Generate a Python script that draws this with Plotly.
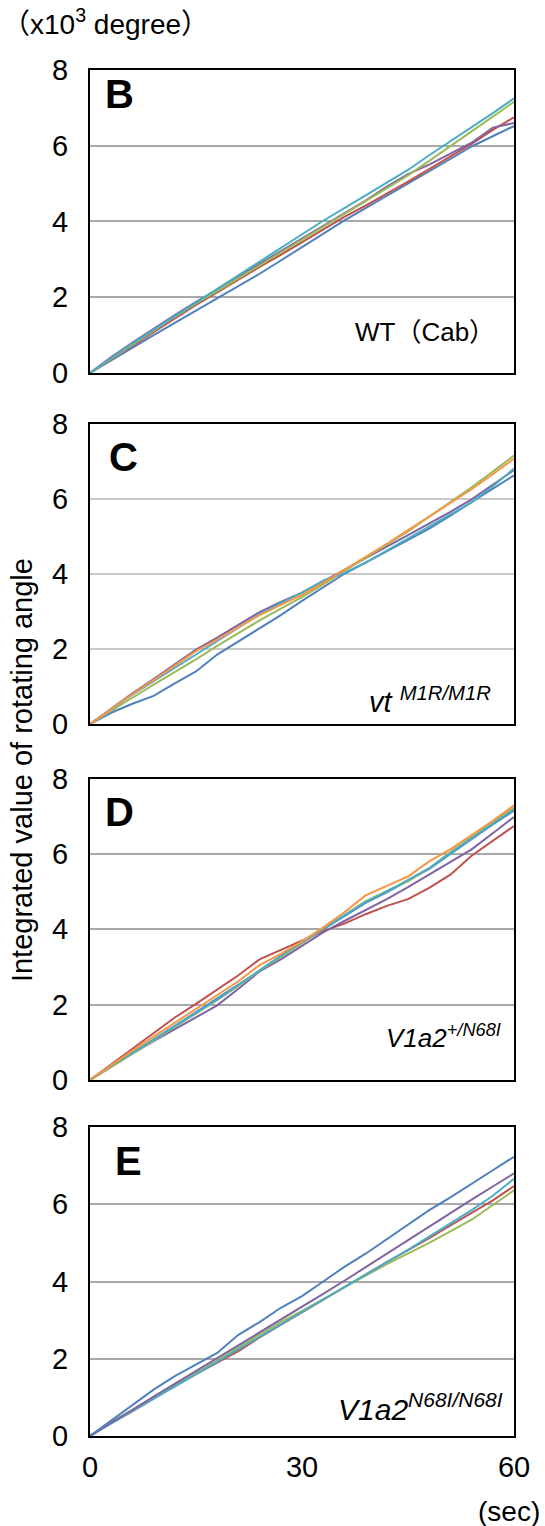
import plotly.graph_objects as go

# time axis (sec)
t = [0, 3, 6, 9, 12, 15, 18, 21, 24, 27, 30, 33, 36, 39, 42, 45, 48, 51, 54, 57, 60]

# Panel B  WT(Cab)  (x10^3 degree)
b_blue = [0, 0.34, 0.67, 1.0, 1.32, 1.64, 1.96, 2.28, 2.62, 2.97, 3.33, 3.68, 4.03, 4.35, 4.67, 4.99, 5.32, 5.65, 5.98, 6.25, 6.52]
b_red = [0, 0.36, 0.72, 1.08, 1.44, 1.8, 2.13, 2.47, 2.8, 3.12, 3.46, 3.8, 4.12, 4.42, 4.73, 5.05, 5.38, 5.72, 6.05, 6.42, 6.75]
b_green = [0, 0.38, 0.76, 1.12, 1.48, 1.84, 2.16, 2.5, 2.83, 3.17, 3.51, 3.84, 4.18, 4.52, 4.86, 5.22, 5.6, 5.98, 6.38, 6.77, 7.16]
b_purple = [0, 0.42, 0.8, 1.17, 1.53, 1.88, 2.2, 2.55, 2.88, 3.22, 3.55, 3.88, 4.2, 4.55, 4.92, 5.25, 5.5, 5.78, 6.08, 6.48, 6.6]
b_cyan = [0, 0.4, 0.78, 1.14, 1.5, 1.86, 2.22, 2.58, 2.95, 3.3, 3.68, 4.02, 4.35, 4.68, 5.02, 5.36, 5.75, 6.12, 6.48, 6.86, 7.25]

# Panel C  vt M1R/M1R
c_blue = [0, 0.3, 0.54, 0.75, 1.08, 1.4, 1.85, 2.2, 2.55, 2.9, 3.28, 3.65, 4.0, 4.3, 4.6, 4.89, 5.2, 5.55, 5.9, 6.25, 6.62]
c_purple = [0, 0.42, 0.82, 1.2, 1.58, 1.98, 2.3, 2.65, 2.98, 3.25, 3.5, 3.8, 4.1, 4.4, 4.72, 5.03, 5.33, 5.65, 5.98, 6.38, 6.76]
c_green = [0, 0.36, 0.7, 1.05, 1.38, 1.72, 2.08, 2.43, 2.76, 3.07, 3.38, 3.72, 4.08, 4.42, 4.78, 5.13, 5.52, 5.9, 6.3, 6.72, 7.15]
c_cyan = [0, 0.4, 0.78, 1.14, 1.5, 1.86, 2.2, 2.56, 2.92, 3.22, 3.5, 3.82, 4.02, 4.3, 4.62, 4.94, 5.25, 5.57, 5.9, 6.33, 6.8]
c_orange = [0, 0.4, 0.8, 1.17, 1.55, 1.94, 2.25, 2.58, 2.9, 3.17, 3.44, 3.76, 4.1, 4.45, 4.8, 5.16, 5.52, 5.88, 6.25, 6.65, 7.07]

# Panel D  V1a2 +/N68I
d_blue = [0, 0.37, 0.72, 1.07, 1.43, 1.8, 2.16, 2.53, 2.9, 3.28, 3.64, 4.0, 4.36, 4.7, 4.98, 5.28, 5.6, 6.0, 6.4, 6.78, 7.15]
d_red = [0, 0.42, 0.82, 1.25, 1.66, 2.02, 2.4, 2.78, 3.2, 3.45, 3.7, 3.95, 4.15, 4.4, 4.62, 4.8, 5.1, 5.45, 5.95, 6.35, 6.74]
d_green = [0, 0.36, 0.7, 1.05, 1.4, 1.76, 2.12, 2.5, 2.9, 3.27, 3.64, 4.02, 4.4, 4.75, 5.02, 5.27, 5.62, 6.05, 6.45, 6.85, 7.23]
d_purple = [0, 0.36, 0.7, 1.03, 1.35, 1.65, 1.98, 2.42, 2.88, 3.2, 3.55, 3.92, 4.22, 4.5, 4.8, 5.12, 5.45, 5.8, 6.12, 6.55, 6.98]
d_cyan = [0, 0.38, 0.72, 1.08, 1.44, 1.78, 2.13, 2.52, 2.92, 3.3, 3.66, 4.02, 4.38, 4.72, 5.0, 5.3, 5.62, 6.02, 6.42, 6.8, 7.18]
d_orange = [0, 0.4, 0.78, 1.15, 1.52, 1.9, 2.25, 2.62, 3.05, 3.35, 3.68, 4.05, 4.45, 4.9, 5.15, 5.4, 5.8, 6.12, 6.5, 6.88, 7.29]

# Panel E  V1a2 N68I/N68I
e_blue = [0, 0.4, 0.82, 1.2, 1.55, 1.85, 2.15, 2.62, 2.95, 3.32, 3.62, 4.0, 4.38, 4.72, 5.1, 5.48, 5.85, 6.18, 6.52, 6.88, 7.23]
e_red = [0, 0.34, 0.64, 0.98, 1.3, 1.6, 1.9, 2.2, 2.55, 2.88, 3.2, 3.52, 3.85, 4.18, 4.5, 4.8, 5.12, 5.45, 5.78, 6.1, 6.47]
e_green = [0, 0.36, 0.68, 1.0, 1.32, 1.62, 1.95, 2.3, 2.62, 2.95, 3.24, 3.55, 3.85, 4.15, 4.45, 4.72, 5.0, 5.3, 5.6, 5.98, 6.36]
e_purple = [0, 0.35, 0.68, 1.02, 1.35, 1.68, 2.01, 2.35, 2.68, 3.0, 3.34, 3.68, 4.02, 4.37, 4.72, 5.08, 5.44, 5.78, 6.12, 6.46, 6.8]
e_cyan = [0, 0.33, 0.65, 0.97, 1.28, 1.6, 1.92, 2.25, 2.58, 2.9, 3.22, 3.54, 3.86, 4.18, 4.5, 4.82, 5.16, 5.5, 5.85, 6.22, 6.66]

x_ticks = [0, 30, 60]
x_tick_text = ["0", "30", "60"]
y_ticks = [0, 2, 4, 6, 8]

panel_letters = ["B", "C", "D", "E"]
genotypes = [
    "WT（Cab）",
    "<i>vt</i> <i><sup>M1R/M1R</sup></i>",
    "<i>V1a2<sup>+/N68I</sup></i>",
    "<i>V1a2<sup>N68I/N68I</sup></i>",
]
geno_sizes = [26, 29, 26, 30]

COL = {
    "blue": "#4F81BD", "red": "#C0504D", "green": "#9BBB59",
    "purple": "#8064A2", "cyan": "#4BACC6", "orange": "#F79646",
}

panels = [
    [("blue", b_blue), ("red", b_red), ("purple", b_purple), ("green", b_green), ("cyan", b_cyan)],
    [("blue", c_blue), ("purple", c_purple), ("green", c_green), ("cyan", c_cyan), ("orange", c_orange)],
    [("blue", d_blue), ("red", d_red), ("purple", d_purple), ("green", d_green), ("cyan", d_cyan), ("orange", d_orange)],
    [("red", e_red), ("green", e_green), ("cyan", e_cyan), ("purple", e_purple), ("blue", e_blue)],
]

domains = [[0.7782, 1.0], [0.5212, 0.7412], [0.2606, 0.4813], [0.0, 0.2262]]
grid_colors = ["#A8A8A8", "#C9C9C9", "#A8A8A8", "#A8A8A8"]

FONT = "Liberation Sans, Arial, Noto Sans CJK JP, sans-serif"

fig = go.Figure()
layout = dict(
    width=545, height=1526,
    margin=dict(l=90, r=31, t=70, b=90),
    paper_bgcolor="white", plot_bgcolor="white",
    showlegend=False,
    font=dict(family=FONT, color="black"),
)

annotations = []
letter_pos = [(0.031, 0.92), (0.039, 0.889), (0.031, 0.89), (0.054, 0.89)]
geno_pos = [(0.96, 0.135), (0.95, 0.08), (0.974, 0.145), (0.979, 0.095)]

for i, series in enumerate(panels):
    n = "" if i == 0 else str(i + 1)
    xa, ya = "x" + n, "y" + n
    for cname, vals in series:
        fig.add_trace(go.Scatter(x=t, y=vals, mode="lines", xaxis=xa, yaxis=ya,
                                 line=dict(color=COL[cname], width=2), hoverinfo="skip"))
    last = i == 3
    layout["xaxis" + n] = dict(
        domain=[0, 1], anchor=ya, range=[0, 60],
        tickvals=x_ticks, ticktext=x_tick_text, showticklabels=last,
        ticks="", showgrid=False, zeroline=False,
        showline=True, mirror=True, linecolor="black", linewidth=2,
        tickfont=dict(size=29, family=FONT), ticklabelstandoff=4,
    )
    layout["yaxis" + n] = dict(
        domain=domains[i], anchor=xa, range=[0, 8],
        tickvals=y_ticks, ticks="", showgrid=True, gridcolor=grid_colors[i], gridwidth=1.5,
        zeroline=False, showline=True, mirror=True, linecolor="black", linewidth=2,
        tickfont=dict(size=29, family=FONT), ticklabelstandoff=14,
    )
    lx, ly = letter_pos[i]
    annotations.append(dict(text="<b>%s</b>" % panel_letters[i], xref=xa + " domain", yref=ya + " domain",
                            x=lx, y=ly, xanchor="left", yanchor="middle", showarrow=False,
                            font=dict(size=40, family=FONT)))
    gx, gy = geno_pos[i]
    annotations.append(dict(text=genotypes[i], xref=xa + " domain", yref=ya + " domain",
                            x=gx, y=gy, xanchor="right", yanchor="middle", showarrow=False,
                            font=dict(size=geno_sizes[i], family=FONT)))

annotations.append(dict(text="（x10<sup>3</sup> degree）", xref="paper", yref="paper",
                        x=-0.212, y=1.035, xanchor="left", yanchor="middle", showarrow=False,
                        font=dict(size=28, family=FONT)))
annotations.append(dict(text="Integrated value of rotating angle", xref="paper", yref="paper",
                        x=-0.160, y=0.4876, xanchor="center", yanchor="middle", textangle=-90,
                        showarrow=False, font=dict(size=29, family=FONT)))
annotations.append(dict(text="(sec)", xref="paper", yref="paper",
                        x=0.988, y=-0.0556, xanchor="center", yanchor="middle",
                        showarrow=False, font=dict(size=28, family=FONT)))

layout["annotations"] = annotations
fig.update_layout(**layout)
fig.write_html("out.html", config={"displayModeBar": False},
               post_script="document.body.style.margin='0px';")
